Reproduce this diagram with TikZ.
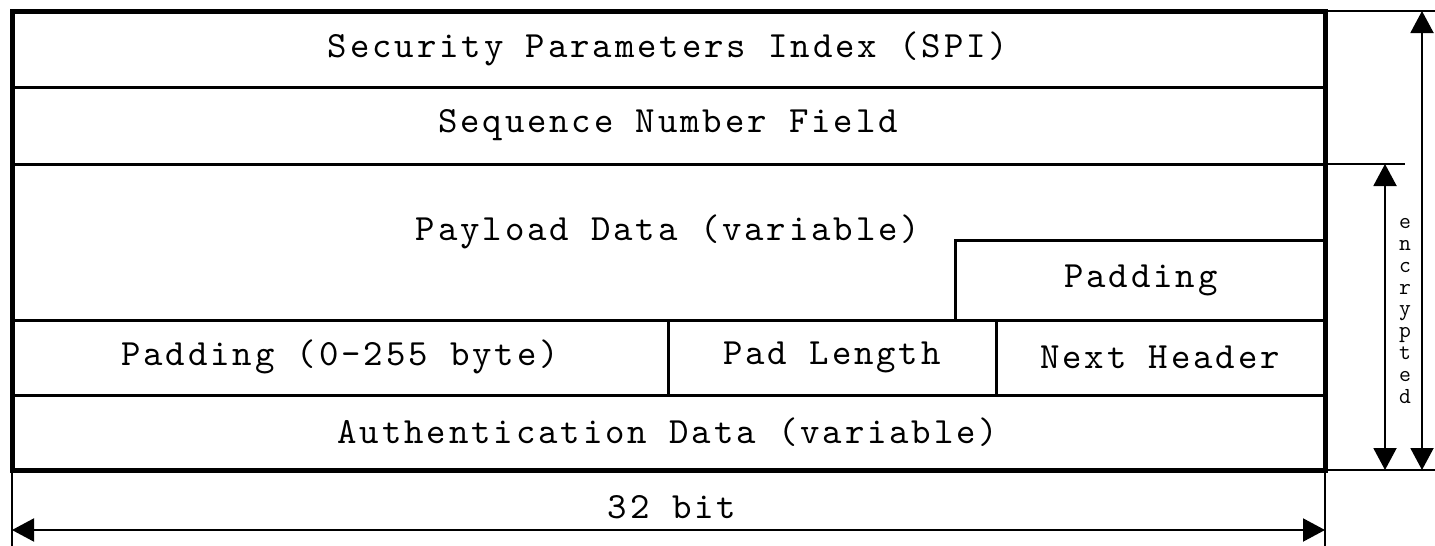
\documentclass[tikz,border=0pt]{standalone}
\usepackage{fontspec}
\newfontfamily\fieldfont{lmmono10-regular.otf}[LetterSpace=7.8]
\usetikzlibrary{arrows.meta}

\tikzset{
    field/.style={font=\fieldfont\fontsize{37}{42}\selectfont, inner sep=0pt},
    frame/.style={line width=5pt},
    sep/.style={line width=3pt},
    dim/.style={line width=2pt},
    dimarrow/.style={dim, {Triangle[length=22pt,width=23pt]}-{Triangle[length=22pt,width=23pt]}}
}

\begin{document}
\begin{tikzpicture}[x=1pt, y=-1pt]
        \useasboundingbox (0,0) rectangle (1435,546);
        % fields
        \draw[sep] (12,87) -- (1325,87) (12,164) -- (1325,164)
                   (12,320) -- (1325,320) (12,395) -- (1325,395);
        \draw[sep] (955,320) -- (955,240) -- (1325,240);
        \draw[sep] (668,320) -- (668,395) (996,320) -- (996,395);
        \draw[frame] (12,11) rectangle (1325,470);
        \node[field] (spi)  at (668,49)  {Security Parameters Index (SPI)};
        \node[field] (seq)  at (668,125) {Sequence Number Field};
        \node[field] (pay)  at (668,232) {Payload Data (variable)};
        \node[field] (pad)  at (1141,280) {Padding};
        \node[field] (padb) at (340,357) {Padding (0-255 byte)};
        \node[field] (padl) at (832,357) {Pad Length};
        \node[field] (nxt)  at (1160,357) {Next Header};
        \node[field] (auth) at (668,432) {Authentication Data (variable)};
        % extension lines
        \coordinate (tr) at (1325,11);
        \coordinate (er) at (1325,164);
        \coordinate (br) at (1325,470);
        \coordinate (bl) at (12,470);
        \draw[dim] (tr) -- (1435,11) (er) -- (1405,164) (br) -- (1435,470);
        \draw[dim] (bl) -- (12,546) (br) -- (1325,546);
        % dimensions
        \coordinate (totT) at (1422,11);
        \coordinate (totB) at (1422,470);
        \coordinate (encT) at (1385,164);
        \coordinate (encB) at (1385,470);
        \coordinate (widL) at (12,530);
        \coordinate (widR) at (1325,530);
        \draw[dimarrow] (totT) -- (totB);
        \draw[dimarrow] (encT) -- (encB);
        \draw[dimarrow] (widL) -- (widR);
        \node[inner sep=0pt, align=center, font=\ttfamily\fontsize{23}{21.8}\selectfont]
            (enc) at (1405,311) {e\\n\\c\\r\\y\\p\\t\\e\\d};
        \node[field] (bits) at (672,507) {32 bit};
\end{tikzpicture}
\end{document}
